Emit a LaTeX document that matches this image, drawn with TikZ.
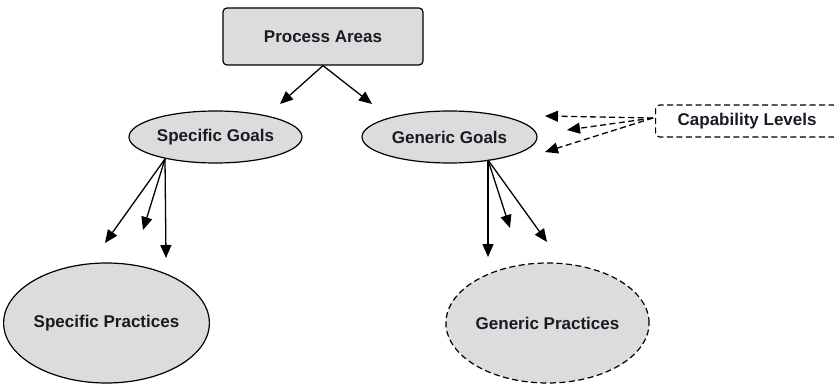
\documentclass[tikz,border=0pt]{standalone}
\usepackage{fontspec}
\setmainfont{Liberation Sans}
\usetikzlibrary{shapes.geometric,arrows.meta}
\definecolor{shade}{HTML}{DCDCDC}
\definecolor{ink}{HTML}{1A1A24}
\begin{document}
\begin{tikzpicture}[x=1pt,y=-1pt,
  every node/.style={font=\bfseries\fontsize{17}{19}\selectfont, text=ink},
  goal/.style={ellipse, draw, line width=1.2pt, fill=shade, inner sep=0pt},
  dashline/.style={dash pattern=on 6pt off 3.5pt},
  arr/.style={line width=1.3pt, -{Triangle[length=13pt,width=11pt]}},
  darr/.style={arr, dashline},
]
\clip (0,0) rectangle (834,385);

% nodes
\node[draw, rounded corners=4pt, fill=shade, line width=1.2pt,
      minimum width=200pt, minimum height=57pt] (pa) at (323,36.5) {Process Areas};
\node[goal, minimum width=173pt, minimum height=52pt] (sg) at (215.5,137) {Specific Goals};
\node[goal, minimum width=175pt, minimum height=52pt] (gg) at (449.5,137) {Generic Goals};
\node[goal, minimum width=187pt, minimum height=120pt] (sp) at (106.5,323) {Specific Practices};
\node[goal, dashline, minimum width=189pt, minimum height=120pt] (gp) at (547.5,323) {Generic Practices};
\node[draw, line width=1.2pt, dashline, rounded corners=4pt,
      minimum width=183pt, minimum height=32pt, anchor=west] (cl) at (655,121) {Capability Levels};

% arrow end points
\coordinate (sgfoot) at (165,159);
\coordinate (ggfoot) at (488,160);
\coordinate (clfoot) at (653,118);
\coordinate (paL) at (280,104);
\coordinate (paR) at (372,104);
\coordinate (sp1) at (105,243);
\coordinate (sp2) at (143,230);
\coordinate (sp3) at (166,258);
\coordinate (gp1) at (488,257);
\coordinate (gp2) at (510,228);
\coordinate (gp3) at (547,242);
\coordinate (cl1) at (545,116);
\coordinate (cl2) at (567,130);
\coordinate (cl3) at (545,152);

% connectors
\draw[arr] (pa.south) -- (paL);
\draw[arr] (pa.south) -- (paR);
\draw[arr] (sgfoot) -- (sp1);
\draw[arr] (sgfoot) -- (sp2);
\draw[arr] (sgfoot) -- (sp3);
\draw[arr] (ggfoot) -- (gp1);
\draw[arr] (ggfoot) -- (gp2);
\draw[arr] (ggfoot) -- (gp3);
\draw[darr] (clfoot) -- (cl1);
\draw[darr] (clfoot) -- (cl2);
\draw[darr] (clfoot) -- (cl3);
\end{tikzpicture}
\end{document}
